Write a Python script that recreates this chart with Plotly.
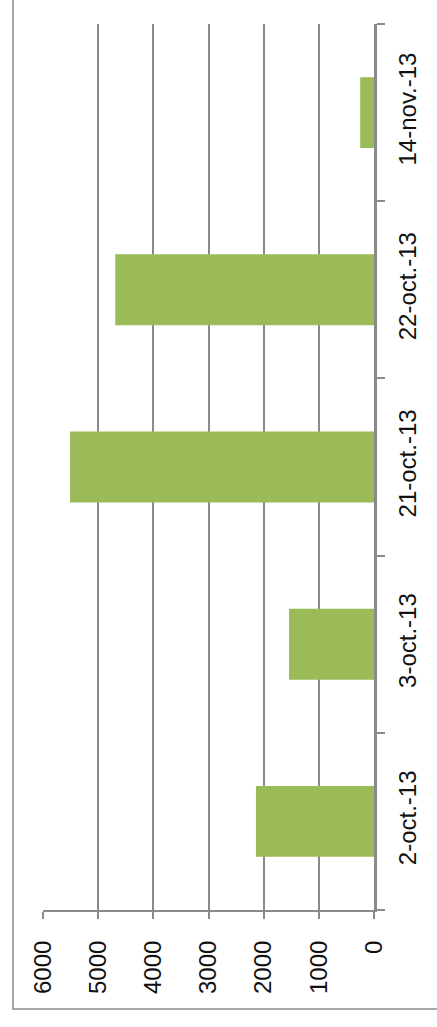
import plotly.graph_objects as go

categories = ["2-oct.-13", "3-oct.-13", "21-oct.-13", "22-oct.-13", "14-nov.-13"]
values = [2140, 1540, 5510, 4690, 250]
value_ticks = [0, 1000, 2000, 3000, 4000, 5000, 6000]

W, H = 437, 1027
L, R, T, B = 43, 63, 24, 117
pw, ph = W - L - R, H - T - B

grid_col = "#8a8a8a"
font = dict(family="Liberation Sans, Arial, sans-serif", size=24, color="#111111")

fig = go.Figure(go.Bar(
    y=categories, x=values, orientation="h",
    marker=dict(color="#9BBB59", line=dict(width=0)),
))

fig.update_layout(
    width=W, height=H,
    margin=dict(l=L, r=R, t=T, b=B),
    paper_bgcolor="white", plot_bgcolor="white",
    bargap=0.6, showlegend=False,
    font=font,
)
fig.update_xaxes(
    range=[6000, 0], tickvals=value_ticks, ticktext=[str(v) for v in value_ticks],
    tickangle=-90, showgrid=True, gridcolor=grid_col, gridwidth=1.5,
    showline=True, linecolor=grid_col, linewidth=2,
    ticks="outside", ticklen=7, tickcolor=grid_col, tickwidth=1.5,
    zeroline=False, tickfont=font, ticklabelstandoff=12,
)
fig.update_yaxes(
    side="right", type="category", categoryorder="array", categoryarray=categories,
    tickangle=-90, showgrid=False,
    showline=True, linecolor=grid_col, linewidth=2.5,
    ticks="outside", ticklen=8, tickcolor=grid_col, tickwidth=1.5,
    tickson="boundaries", tickfont=font, ticklabelstandoff=10,
)

# outer chart-area border (extends beyond the visible image on top/right)
fig.add_shape(
    type="rect", xref="paper", yref="paper",
    x0=(13 - L) / pw, x1=(W + 20 - L) / pw,
    y0=-(1009 - (T + ph)) / ph, y1=1 + (T + 20) / ph,
    line=dict(color="#8c8c8c", width=1.5), fillcolor="rgba(0,0,0,0)", layer="below",
)

fig.write_html("out.html")
